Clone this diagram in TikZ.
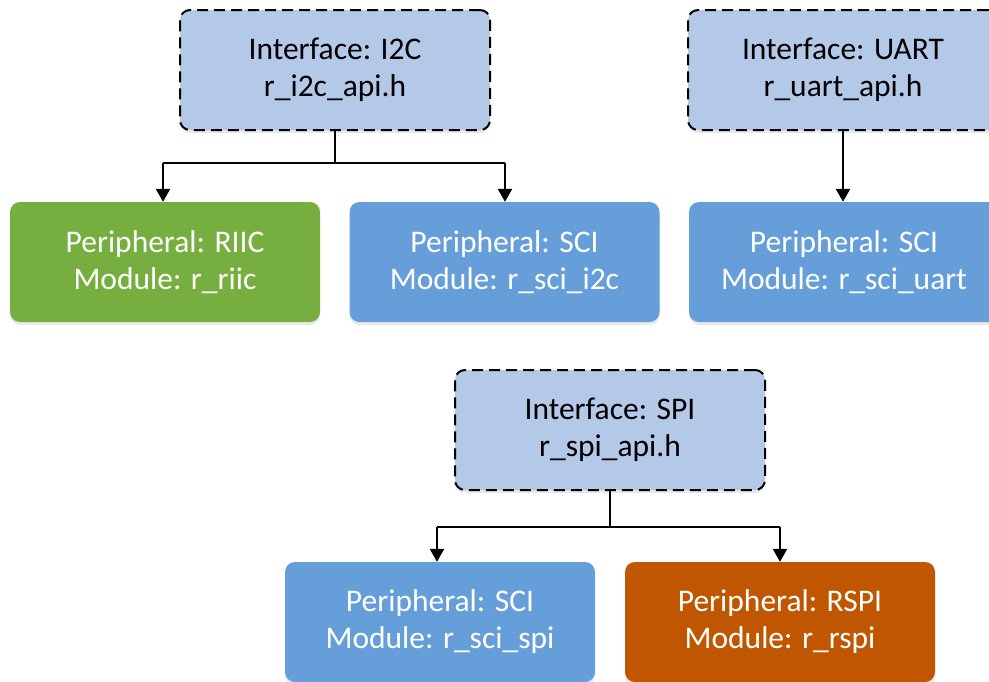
\documentclass[tikz,border=0pt]{standalone}
\usepackage{fontspec}
\setmainfont{Carlito}
\usetikzlibrary{arrows.meta,shadows}
\definecolor{ifblue}{HTML}{B4C9E8}
\definecolor{pblue}{HTML}{659ED8}
\definecolor{pgreen}{HTML}{76AF3F}
\definecolor{porange}{HTML}{C05600}
\tikzset{
  box/.style={rectangle, rounded corners=10pt, minimum width=310pt, minimum height=120pt,
    inner sep=0pt, align=center, font=\fontsize{31.5}{37}\selectfont,
    drop shadow={shadow xshift=0pt, shadow yshift=-3pt, opacity=0.18, fill=gray}},
  ifbox/.style={box, fill=ifblue, draw=black, line width=2pt, dash pattern=on 11pt off 6pt, text=black},
  perbox/.style={box, draw=none, text=white},
  conn/.style={draw=black, line width=2.4pt},
  arr/.style={conn, -{Triangle[length=13pt,width=14pt]}},
}
\begin{document}
\begin{tikzpicture}[x=1pt,y=-1pt]
\useasboundingbox (0,0) rectangle (989,681);
\clip (0,0) rectangle (989,681);
\node[ifbox] (i2c) at (335,70) {Interface: I2C\\r\_i2c\_api.h};
\node[ifbox] (uart) at (843,70) {Interface: UART\\r\_uart\_api.h};
\node[perbox, fill=pgreen] (riic) at (165,262) {Peripheral: RIIC\\Module: r\_riic};
\node[perbox, fill=pblue] (scii2c) at (504.5,262) {Peripheral: SCI\\Module: r\_sci\_i2c};
\node[perbox, fill=pblue] (sciuart) at (844,262) {Peripheral: SCI\\Module: r\_sci\_uart};
\node[ifbox] (spi) at (610,430) {Interface: SPI\\r\_spi\_api.h};
\node[perbox, fill=pblue] (scispi) at (440,622) {Peripheral: SCI\\Module: r\_sci\_spi};
\node[perbox, fill=porange] (rspi) at (780,622) {Peripheral: RSPI\\Module: r\_rspi};
\coordinate (j1) at (335,163);
\coordinate (j1l) at (163,163);
\coordinate (j1r) at (505,163);
\draw[conn] (i2c.south) -- (j1);
\draw[conn] (j1l) -- (j1r);
\draw[arr] (j1l) -- (j1l |- riic.north);
\draw[arr] (j1r) -- (j1r |- scii2c.north);
\draw[arr] (uart.south) -- (uart.south |- sciuart.north);
\coordinate (j2) at (610,527);
\coordinate (j2l) at (437,527);
\coordinate (j2r) at (780,527);
\draw[conn] (spi.south) -- (j2);
\draw[conn] (j2l) -- (j2r);
\draw[arr] (j2l) -- (j2l |- scispi.north);
\draw[arr] (j2r) -- (j2r |- rspi.north);
\end{tikzpicture}
\end{document}
